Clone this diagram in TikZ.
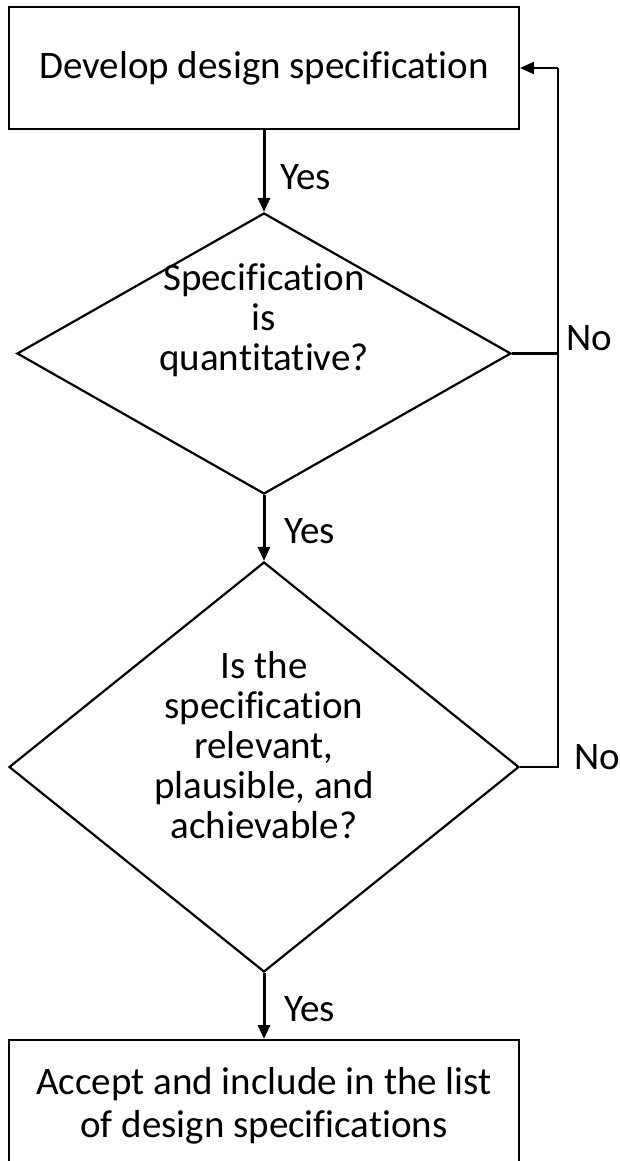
\documentclass[tikz,border=0pt]{standalone}
\usepackage{fontspec}
\setmainfont{Carlito}[Ligatures=NoCommon]
\usetikzlibrary{shapes.geometric,arrows.meta}

\begin{document}
\begin{tikzpicture}
        [x=1pt,y=-1pt]
        \tikzstyle{every node}=[font=\fontsize{39}{40}\selectfont, align=center, inner sep=0pt]
        \tikzstyle{stage}=[rectangle, draw, line width=2pt, minimum width=510pt]
        \tikzstyle{test}=[diamond, draw, line width=2.2pt]
        \tikzstyle{flow}=[line width=3pt, -{Triangle[length=14pt,width=12pt]}]
        \tikzstyle{loop}=[line width=2.4pt]
        \tikzstyle{tag}=[anchor=west]
        \useasboundingbox (0,0) rectangle (620,1161);
        %-----steps
         \node[stage, minimum height=122pt] (dev) at (264,68) {Develop design specification};
         \node[test, shape aspect=1.76, minimum width=494pt, minimum height=281pt] (quant) at (264,353.5) {};
         \node (quanttxt) at (264,320) {Specification\\is\\quantitative?};
         \node[test, shape aspect=1.24, minimum width=510pt, minimum height=410pt] (relev) at (264,767) {};
         \node (relevtxt) at (264,745) {Is the\\specification\\relevant,\\plausible, and\\achievable?};
         \node[stage, minimum height=132pt, font=\fontsize{39}{43}\selectfont] (accept) at (264,1106) {Accept and include in the list\\of design specifications};
        %-----answers
         \node[tag] (yes1) at (280,177) {Yes};
         \node[tag] (yes2) at (284,531) {Yes};
         \node[tag] (yes3) at (284,1009) {Yes};
         \node[tag] (no1) at (566,338) {No};
         \node[tag] (no2) at (574,757) {No};
         \coordinate (back) at (558,68);

         \foreach \from/\to in {dev/quant,quant/relev,relev/accept}
         \draw[flow] (\from) -- (\to);

         \draw[loop] (quant.east) -- (quant.east -| back);
         \draw[loop] (relev.east) -| (back);
         \draw[flow, line width=2.4pt] (back) -- (dev.east);
        \end{tikzpicture}
\end{document}
